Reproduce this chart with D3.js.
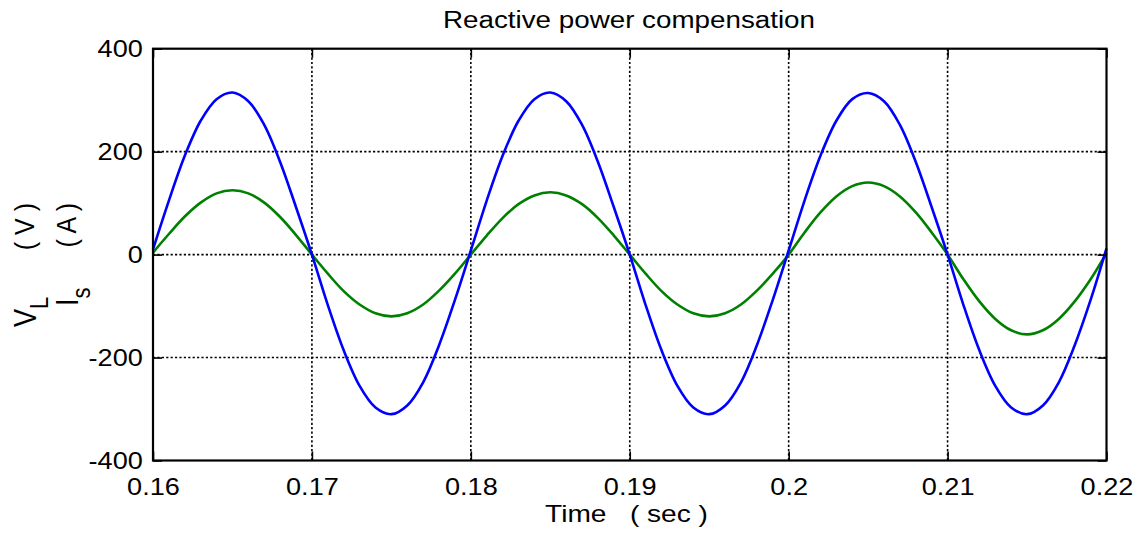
<!DOCTYPE html>
<html>
<head>
<meta charset="utf-8">
<script src="https://cdn.jsdelivr.net/npm/d3@7"></script>
<style>
  body { margin: 0; background: #fff; }
  svg { display: block; font-family: "Liberation Sans", Arial, sans-serif; }
</style>
</head>
<body>
<div id="chart"></div>
<script>
// time samples (s), every 1 ms
const time = [
  0.160, 0.161, 0.162, 0.163, 0.164, 0.165, 0.166, 0.167, 0.168, 0.169,
  0.170, 0.171, 0.172, 0.173, 0.174, 0.175, 0.176, 0.177, 0.178, 0.179,
  0.180, 0.181, 0.182, 0.183, 0.184, 0.185, 0.186, 0.187, 0.188, 0.189,
  0.190, 0.191, 0.192, 0.193, 0.194, 0.195, 0.196, 0.197, 0.198, 0.199,
  0.200, 0.201, 0.202, 0.203, 0.204, 0.205, 0.206, 0.207, 0.208, 0.209,
  0.210, 0.211, 0.212, 0.213, 0.214, 0.215, 0.216, 0.217, 0.218, 0.219,
  0.220
];

// load voltage V_L (V), blue trace
const loadVoltage = [
  10, 105, 192, 260, 302, 315, 298, 252, 180, 92,
  0, -98, -186, -255, -297, -310, -293, -248, -176, -88,
  8, 105, 192, 260, 302, 315, 298, 252, 180, 92,
  0, -98, -186, -255, -297, -310, -293, -248, -176, -88,
  8, 105, 192, 260, 302, 314, 298, 252, 180, 92,
  0, -98, -186, -255, -297, -310, -293, -248, -176, -88,
  12
];

// source current I_s (A), green trace
const sourceCurrent = [
  4, 40, 74, 101, 119, 125, 119, 101, 73, 38,
  0, -37, -71, -97, -114, -120, -114, -97, -70, -37,
  0, 37, 71, 98, 115, 121, 115, 98, 71, 37,
  0, -37, -71, -97, -114, -120, -114, -97, -70, -37,
  0, 43, 82, 113, 133, 140, 133, 113, 82, 43,
  0, -48, -91, -125, -147, -155, -147, -125, -91, -48,
  3
];

const xTicks = [0.16, 0.17, 0.18, 0.19, 0.2, 0.21, 0.22];
const xTickLabels = ['0.16', '0.17', '0.18', '0.19', '0.2', '0.21', '0.22'];
const yTicks = [-400, -200, 0, 200, 400];
const yTickLabels = ['-400', '-200', '0', '200', '400'];

const width = 1140;
const height = 535;
const margin = { top: 48.7, right: 33.5, bottom: 74.5, left: 153 };
const plotW = width - margin.left - margin.right;
const plotH = height - margin.top - margin.bottom;
const stretch = 1.13; // the picture's text is a bit wider than it is tall

const svg = d3.select('#chart')
  .append('svg')
  .attr('width', width)
  .attr('height', height);

const g = svg.append('g')
  .attr('transform', `translate(${margin.left},${margin.top})`);

const x = d3.scaleLinear().domain([0.16, 0.22]).range([0, plotW]);
const y = d3.scaleLinear().domain([-400, 400]).range([plotH, 0]);

// dotted grid
g.append('g')
  .selectAll('line')
  .data(xTicks.slice(1, -1))
  .join('line')
  .attr('x1', d => x(d)).attr('x2', d => x(d))
  .attr('y1', 0).attr('y2', plotH)
  .attr('stroke', '#000')
  .attr('stroke-width', 1.6)
  .attr('stroke-dasharray', '2.2,2.2');

g.append('g')
  .selectAll('line')
  .data(yTicks.slice(1, -1))
  .join('line')
  .attr('x1', 0).attr('x2', plotW)
  .attr('y1', d => y(d)).attr('y2', d => y(d))
  .attr('stroke', '#000')
  .attr('stroke-width', 1.6)
  .attr('stroke-dasharray', '2.2,2.2');

// traces
const line = values => d3.line()
  .x((d, i) => x(time[i]))
  .y(d => y(d))
  .curve(d3.curveCatmullRom)(values);

g.append('path')
  .attr('d', line(sourceCurrent))
  .attr('fill', 'none')
  .attr('stroke', '#008000')
  .attr('stroke-width', 2.6);

g.append('path')
  .attr('d', line(loadVoltage))
  .attr('fill', 'none')
  .attr('stroke', '#0000ff')
  .attr('stroke-width', 2.6);

// axes, ticks pointing inward like MATLAB
const styleAxis = sel => {
  sel.select('.domain').remove();
  sel.selectAll('.tick line').attr('stroke', '#000').attr('stroke-width', 1.6);
  sel.selectAll('.tick text')
    .attr('fill', '#000')
    .style('font-size', '24px');
};

const xAxis = g.append('g')
  .attr('transform', `translate(0,${plotH})`)
  .call(d3.axisBottom(x).tickValues(xTicks).tickSizeInner(-9).tickSizeOuter(0)
    .tickPadding(17).tickFormat((d, i) => xTickLabels[i]))
  .call(styleAxis);
xAxis.selectAll('.tick text').attr('transform', `scale(${stretch},1)`);

const yAxis = g.append('g')
  .call(d3.axisLeft(y).tickValues(yTicks).tickSizeInner(-9).tickSizeOuter(0)
    .tickPadding(9).tickFormat((d, i) => yTickLabels[i]))
  .call(styleAxis);
yAxis.selectAll('.tick text').attr('transform', `scale(${stretch},1)`);

g.append('g')
  .call(d3.axisTop(x).tickValues(xTicks).tickSizeInner(-9).tickSizeOuter(0).tickFormat(''))
  .call(styleAxis);

g.append('g')
  .attr('transform', `translate(${plotW},0)`)
  .call(d3.axisRight(y).tickValues(yTicks).tickSizeInner(-9).tickSizeOuter(0).tickFormat(''))
  .call(styleAxis);

// box
g.append('rect')
  .attr('width', plotW)
  .attr('height', plotH)
  .attr('fill', 'none')
  .attr('stroke', '#000')
  .attr('stroke-width', 2.2);

// title
svg.append('text')
  .attr('x', 629)
  .attr('y', 28)
  .attr('text-anchor', 'middle')
  .attr('textLength', 372)
  .attr('lengthAdjust', 'spacingAndGlyphs')
  .style('font-size', '23px')
  .text('Reactive power compensation');

// x label
svg.append('text')
  .attr('x', 626.5)
  .attr('y', 521.5)
  .attr('text-anchor', 'middle')
  .attr('textLength', 163)
  .attr('lengthAdjust', 'spacingAndGlyphs')
  .attr('xml:space', 'preserve')
  .style('font-size', '24px')
  .text('Time   ( sec )');

// y label: two rotated lines, each a symbol with subscript plus its unit
const yLabels = [
  { sym: 'V', sub: 'L', unit: '( V )', bx: 36, start: 327 },
  { sym: 'I', sub: 's', unit: '( A )', bx: 77.5, start: 306 }
];

yLabels.forEach(l => {
  const t = svg.append('text')
    .attr('transform', `translate(${l.bx},${l.start}) rotate(-90) scale(1,${stretch})`)
    .style('font-size', '27px');
  t.append('tspan').text(l.sym);
  t.append('tspan').attr('dy', 11).style('font-size', '22px').text(l.sub);

  svg.append('text')
    .attr('transform', `translate(${l.bx - 2},203) rotate(-90) scale(1,${stretch})`)
    .attr('text-anchor', 'end')
    .attr('xml:space', 'preserve')
    .style('font-size', '25px')
    .text(l.unit);
});
</script>
</body>
</html>
